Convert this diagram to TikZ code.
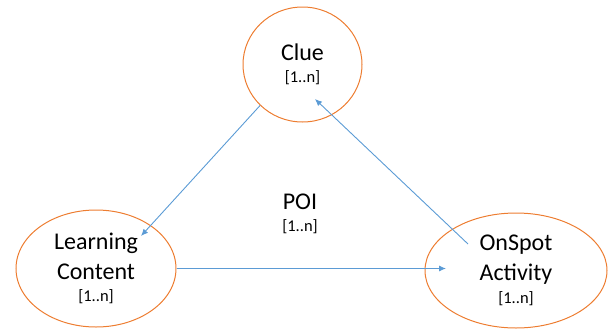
\documentclass[tikz,border=0pt]{standalone}
\usepackage{fontspec}
\setmainfont{Carlito}
\usepackage{tikz}
\usetikzlibrary{arrows.meta,shapes.geometric,positioning}
\tikzset{>={Latex[length=7pt,width=6pt]}}
\definecolor{entorange}{HTML}{ED7D31}
\definecolor{linkblue}{HTML}{5B9BD5}
\newcommand{\mult}{{\fontsize{16.5}{20}\selectfont [1..n]}}

\begin{document}
\begin{tikzpicture}[x=1pt,y=-1pt,
      ent/.style={draw=entorange,line width=1pt,ellipse,inner sep=0pt,align=center,
                  font=\fontsize{24}{30}\selectfont},
      link/.style={->,draw=linkblue,line width=0.9pt}]
              \useasboundingbox (0,0) rectangle (608,330);

              \node[ent,minimum width=119pt,minimum height=115pt] (clue) at (302.5,64.5) {Clue\\[-7.5pt]\mult};
              \node[ent,minimum width=160pt,minimum height=117pt] (lc) at (96,268.5) {Learning\\Content\\[-7.5pt]\mult};
              \node[ent,minimum width=182pt,minimum height=115pt] (osa) at (516,270.5) {OnSpot\\Activity\\[-7.5pt]\mult};
              \node[align=center,font=\fontsize{24}{30}\selectfont] (poi) at (300,214) {POI\\[-7.5pt]\mult};

              \coordinate (lc-tip) at (141,236);
              \coordinate (osa-tip) at (446,268.5);
              \coordinate (osa-start) at (468,244);
              \coordinate (clue-tip) at (315,99);

              \draw[link] (clue.224) -- (lc-tip);
              \draw[link] (lc.east) -- (osa-tip);
              \draw[link] (osa-start) -- (clue-tip);
             \end{tikzpicture}
\end{document}
